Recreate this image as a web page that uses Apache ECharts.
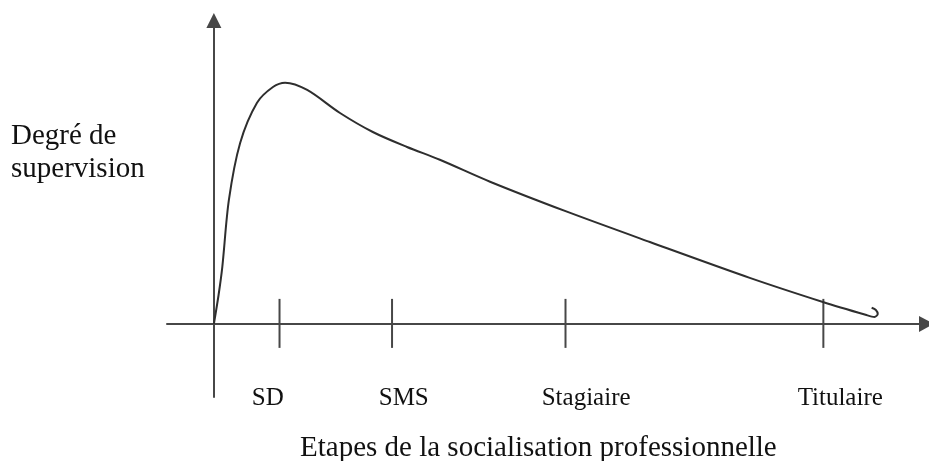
<!DOCTYPE html>
<html>
<head>
<meta charset="utf-8">
<script src="https://cdn.jsdelivr.net/npm/echarts@6/dist/echarts.min.js"></script>
<style>
    html, body { margin: 0; padding: 0; background: #fff; }
    #chart { width: 929px; height: 461px; }
</style>
</head>
<body>
<div id="chart"></div>
<script>
//courbe du degré de supervision (unités arbitraires)
const curveX = [0, 1.0, 1.8, 3.2, 5.6, 9.2, 12.6, 15.2, 19.9, 26.9, 33.9, 41.2, 48.2, 58.9, 75.3, 93.0, 114.3, 129.9, 139.0, 140.9, 141.6, 141.2, 140.3];
const curveY = [0, 7.9, 15.6, 33.9, 49.5, 60.5, 64.8, 66.0, 64.0, 57.7, 52.5, 48.4, 44.9, 38.9, 30.7, 22.4, 12.6, 6.0, 2.5, 1.9, 2.7, 3.8, 4.4];
//étapes
const stages = ['SD', 'SMS', 'Stagiaire', 'Titulaire'];
const stageTickX = [14, 38, 75, 130];
const stageLabelX = [11.5, 40.5, 79.4, 133.6];

const yName = 'Degré de\nsupervision';
const xName = 'Etapes de la socialisation professionnelle';

const font = '"Liberation Serif", "Times New Roman", serif';
const axisColor = '#474747';

function addChart(dom, option) {
    let myChart = echarts.init(dom);
    myChart.setOption(option);
    return myChart;
}

const option = {
    animation: false,
    backgroundColor: '#fff',
    title: [{
        text: yName,
        left: 11,
        top: 120,
        padding: 0,
        textStyle: { fontFamily: font, fontSize: 29, fontWeight: 'normal', color: '#111', lineHeight: 33 }
    }, {
        text: xName,
        left: 300,
        top: 434,
        padding: 0,
        textStyle: { fontFamily: font, fontSize: 29, fontWeight: 'normal', color: '#111', lineHeight: 29 }
    }],
    grid: { left: 167, right: 2.5, top: 20.5, bottom: 64 },
    xAxis: {
        type: 'value',
        min: -10,
        max: 152,
        axisLine: {
            show: true,
            symbol: ['none', 'triangle'],
            symbolSize: [16, 15],
            lineStyle: { color: axisColor, width: 2 }
        },
        axisTick: { show: false },
        axisLabel: { show: false },
        splitLine: { show: false }
    },
    yAxis: {
        type: 'value',
        min: -20,
        max: 83,
        axisLine: {
            show: true,
            symbol: ['none', 'triangle'],
            symbolSize: [15, 15],
            lineStyle: { color: axisColor, width: 2 }
        },
        axisTick: { show: false },
        axisLabel: { show: false },
        splitLine: { show: false }
    },
    series: [{
        type: 'line',
        data: curveX.map((x, i) => [x, curveY[i]]),
        smooth: 0.3,
        symbol: 'none',
        clip: false,
        lineStyle: { color: '#2e2e2e', width: 2 }
    }, {
        type: 'custom',
        clip: false,
        data: stages.map((s, i) => [stageTickX[i], stageLabelX[i], s]),
        renderItem(params, api) {
            const tick = api.coord([api.value(0), 0]);
            const lab = api.coord([api.value(1), 0]);
            return {
                type: 'group',
                children: [{
                    type: 'line',
                    shape: { x1: tick[0], y1: tick[1] - 25, x2: tick[0], y2: tick[1] + 24 },
                    style: { stroke: axisColor, lineWidth: 2 }
                }, {
                    type: 'text',
                    style: {
                        text: stages[params.dataIndex],
                        x: lab[0],
                        y: lab[1] + 75,
                        align: 'center',
                        verticalAlign: 'middle',
                        font: '25px ' + font,
                        fill: '#111'
                    }
                }]
            };
        }
    }]
};

addChart(document.getElementById('chart'), option);
</script>
</body>
</html>
